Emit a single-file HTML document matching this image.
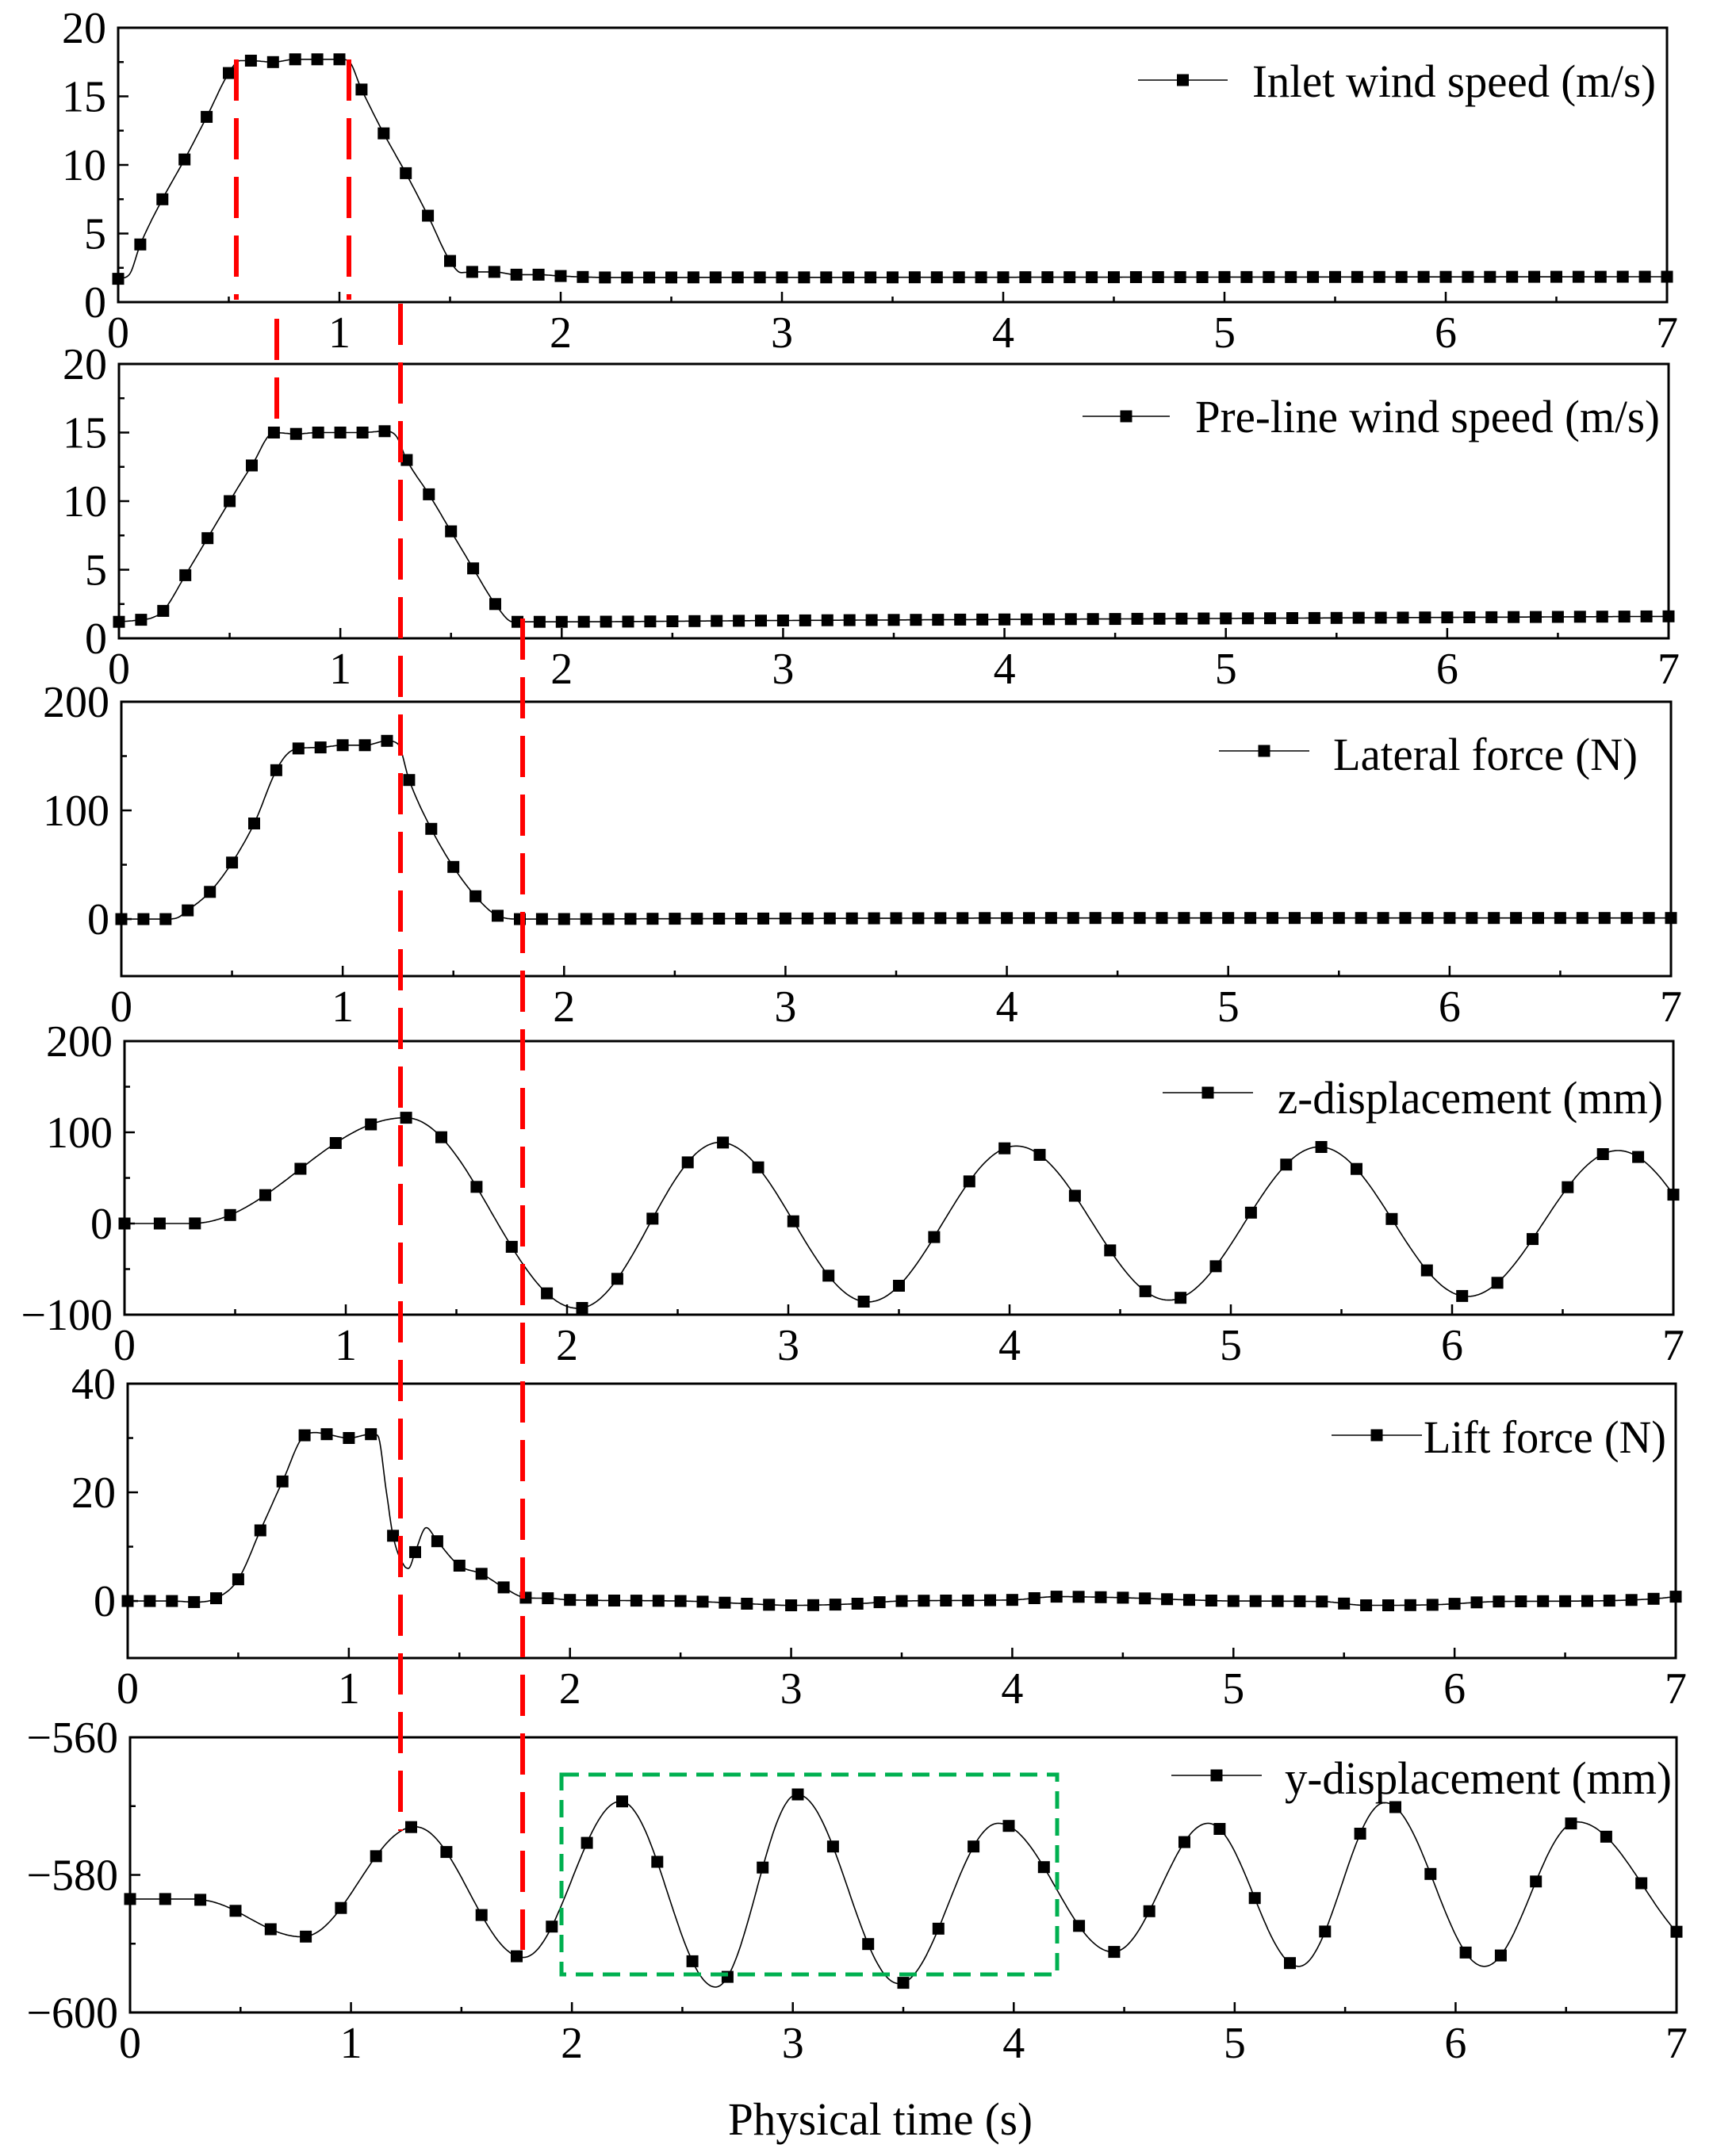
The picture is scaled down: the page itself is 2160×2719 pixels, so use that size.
<!DOCTYPE html>
<html><head><meta charset="utf-8"><style>
html,body{margin:0;padding:0;background:#fff}
svg{display:block}
text{font-family:"Liberation Serif","Times New Roman",serif;fill:#000}
.tk{font-size:56px}
.lg{font-size:58px}
</style></head><body>
<svg id="s" xmlns="http://www.w3.org/2000/svg" width="2160" height="2719" viewBox="0 0 2160 2719">
<rect width="2160" height="2719" fill="#fff"/>
<g id="plots"></g>
<g class="tk" id="labels"></g>
<g class="lg">
<text x="1579" y="122" textLength="509" lengthAdjust="spacingAndGlyphs">Inlet wind speed (m/s)</text>
<text x="1507" y="545" textLength="586" lengthAdjust="spacingAndGlyphs">Pre-line wind speed (m/s)</text>
<text x="1681" y="971" textLength="384" lengthAdjust="spacingAndGlyphs">Lateral force (N)</text>
<text x="1611" y="1404" textLength="486" lengthAdjust="spacingAndGlyphs">z-displacement (mm)</text>
<text x="1795" y="1832" textLength="306" lengthAdjust="spacingAndGlyphs">Lift force (N)</text>
<text x="1620" y="2262" textLength="488" lengthAdjust="spacingAndGlyphs">y-displacement (mm)</text>
<text x="1110" y="2692" text-anchor="middle" textLength="384" lengthAdjust="spacingAndGlyphs">Physical time (s)</text>
</g>
</svg>
<script>
(function(){
var NS="http://www.w3.org/2000/svg";
var plots=document.getElementById('plots'), labels=document.getElementById('labels');
function el(tag,attrs,par){var e=document.createElementNS(NS,tag);for(var k in attrs)e.setAttribute(k,attrs[k]);(par||plots).appendChild(e);return e;}
function mono(pts){
  var n=pts.length,xs=pts.map(p=>p[0]),ys=pts.map(p=>p[1]),d=[],m=[];
  for(var i=0;i<n-1;i++)d.push((ys[i+1]-ys[i])/(xs[i+1]-xs[i]));
  m[0]=d[0];m[n-1]=d[n-2];
  for(i=1;i<n-1;i++){ if(d[i-1]*d[i]<=0)m[i]=0; else m[i]=(d[i-1]+d[i])/2;}
  for(i=0;i<n-1;i++){ if(d[i]===0){m[i]=0;m[i+1]=0;continue;} var a=m[i]/d[i],b=m[i+1]/d[i],h=a*a+b*b; if(h>9){var t=3/Math.sqrt(h);m[i]=t*a*d[i];m[i+1]=t*b*d[i];}}
  return function(x){
    if(x<=xs[0])return ys[0]; if(x>=xs[n-1])return ys[n-1];
    var k=0;while(xs[k+1]<x)k++;
    var h=xs[k+1]-xs[k],t=(x-xs[k])/h,t2=t*t,t3=t2*t;
    return (2*t3-3*t2+1)*ys[k]+(t3-2*t2+t)*h*m[k]+(-2*t3+3*t2)*ys[k+1]+(t3-t2)*h*m[k+1];
  };
}
function cosEx(ex){
  return function(x){
    if(x<=ex[0][0])return ex[0][1];
    for(var i=0;i<ex.length-1;i++){ if(x<=ex[i+1][0]){var t=(x-ex[i][0])/(ex[i+1][0]-ex[i][0]);var s=(1-Math.cos(Math.PI*t))/2;return ex[i][1]+(ex[i+1][1]-ex[i][1])*s;} }
    return ex[ex.length-1][1];
  };
}
function panel(P){
  var L=P.L,R=P.R,T=P.T,B=P.B,y0=P.ymin,y1=P.ymax;
  var X=t=>L+(R-L)*t/7, Y=v=>B-(B-T)*(v-y0)/(y1-y0);
  var d="",N=1400;
  for(var i=0;i<=N;i++){var t=7*i/N;var y=Y(P.f(t));d+=(i?"L":"M")+X(t).toFixed(1)+","+y.toFixed(1);}
  el('path',{d:d,fill:"none",stroke:"#000","stroke-width":1.6});
  var nm=Math.round(7/P.dt);
  for(i=0;i<=nm;i++){var t=i*7/nm;var x=X(t),y=Y(P.f(t));
    el('rect',{x:(x-7.5).toFixed(1),y:(y-7.5).toFixed(1),width:15,height:15,fill:"#000"});}
  el('rect',{x:L,y:T,width:R-L,height:B-T,fill:"none",stroke:"#000","stroke-width":3});
  for(i=0;i<=14;i++){var x=X(i/2);var len=i%2?7:13; if(i>0&&i<14)el('line',{x1:x,y1:B,x2:x,y2:B-len,stroke:"#000","stroke-width":2.5});}
  for(i=0;i<=7;i++){var tx=el('text',{x:X(i),y:B+57,"text-anchor":"middle"},labels);tx.textContent=String(i);}
  P.major.forEach(function(v){var y=Y(v);if(y>T+2&&y<B-2)el('line',{x1:L,y1:y,x2:L+13,y2:y,stroke:"#000","stroke-width":2.5});
    var tx=el('text',{x:L-15,y:y+19,"text-anchor":"end"},labels);tx.textContent=(v<0?"\u2212"+(-v):String(v));});
  P.minor.forEach(function(v){var y=Y(v);el('line',{x1:L,y1:y,x2:L+7,y2:y,stroke:"#000","stroke-width":2.5});});
  el('line',{x1:P.lg[0],y1:P.lg[2],x2:P.lg[1],y2:P.lg[2],stroke:"#000","stroke-width":1.6});
  var mx=(P.lg[0]+P.lg[1])/2;el('rect',{x:mx-7.5,y:P.lg[2]-7.5,width:15,height:15,fill:"#000"});
}
var f1=mono([[0,1.7],[0.05,2.0],[0.1,4.2],[0.2,7.5],[0.3,10.4],[0.4,13.5],[0.5,16.7],[0.55,17.6],[0.6,17.6],[0.7,17.5],[0.8,17.7],[0.9,17.7],[1.0,17.7],[1.04,17.6],[1.1,15.5],[1.2,12.3],[1.3,9.4],[1.4,6.3],[1.5,3.0],[1.55,2.15],[1.6,2.2],[1.7,2.2],[1.8,2.0],[1.9,2.0],[2.0,1.9],[2.2,1.8],[7,1.85]]);
var f2=mono([[0,1.2],[0.1,1.35],[0.15,1.5],[0.2,2.0],[0.3,4.6],[0.4,7.3],[0.5,10.0],[0.6,12.6],[0.7,15],[0.8,14.9],[0.9,15],[1.0,15],[1.1,15],[1.2,15.1],[1.25,14.8],[1.3,13],[1.4,10.5],[1.5,7.8],[1.6,5.1],[1.7,2.5],[1.78,1.2],[1.9,1.2],[3,1.3],[5,1.45],[7,1.6]]);
var f3=mono([[0,0],[0.2,0],[0.25,1],[0.3,8],[0.4,25],[0.5,52],[0.6,88],[0.7,137],[0.75,152],[0.8,157],[0.9,158],[1.0,160],[1.1,160],[1.2,164],[1.25,161],[1.3,128],[1.4,83],[1.5,48],[1.6,21],[1.7,3],[1.8,0],[2.5,0.3],[4.5,1],[7,1]]);
var f4=cosEx([[0.3,0],[1.27,116],[2.05,-93],[2.69,89],[3.36,-86],[4.03,85],[4.72,-84],[5.40,84],[6.07,-80],[6.75,80],[7.42,-78]]);
var f5=mono([[0,0],[0.1,0],[0.2,0],[0.3,-0.2],[0.4,0.5],[0.5,4],[0.6,13],[0.7,22],[0.8,30.5],[0.85,31],[0.9,30.7],[1.0,30],[1.1,30.7],[1.13,30.5],[1.17,20],[1.2,12],[1.25,6.5],[1.27,6],[1.3,9],[1.35,13.5],[1.4,11],[1.5,6.5],[1.6,5],[1.7,2.5],[1.8,0.6],[1.9,0.5],[2.0,0.2],[2.5,0],[2.8,-0.5],[3.0,-0.8],[3.3,-0.5],[3.5,0],[4.0,0.2],[4.2,0.8],[4.5,0.6],[4.8,0.2],[5.0,0],[5.4,-0.1],[5.6,-0.8],[5.9,-0.7],[6.2,-0.1],[6.6,0],[6.9,0.4],[7,0.8]]);
var f6=cosEx([[0.3,-583.6],[0.78,-589],[1.29,-573],[1.78,-592],[2.22,-569.3],[2.65,-596.3],[3.02,-568.3],[3.48,-595.8],[3.93,-572.5],[4.45,-591.2],[4.88,-572.5],[5.29,-593.3],[5.68,-569.5],[6.13,-593.3],[6.55,-572.3],[7.15,-591]]);
var f6b=function(t){return t<0.3?-583.5:f6(t);};
panel({L:149,R:2102,T:35,B:381,ymin:0,ymax:20,f:f1,dt:0.1,major:[0,5,10,15,20],minor:[2.5,7.5,12.5,17.5],lg:[1435,1548,101]});
panel({L:150,R:2104,T:459,B:805,ymin:0,ymax:20,f:f2,dt:0.1,major:[0,5,10,15,20],minor:[2.5,7.5,12.5,17.5],lg:[1365,1475,525]});
panel({L:153,R:2107,T:885,B:1231,ymin:-52.5,ymax:200,f:f3,dt:0.1,major:[0,100,200],minor:[50,150],lg:[1537,1651,947]});
panel({L:157,R:2110,T:1313,B:1658,ymin:-100,ymax:200,f:f4,dt:7/44,major:[-100,0,100,200],minor:[-50,50,150],lg:[1466,1580,1378]});
panel({L:161,R:2113,T:1745,B:2091,ymin:-10.5,ymax:40,f:f5,dt:0.1,major:[0,20,40],minor:[10,30],lg:[1679,1793,1810]});
panel({L:164,R:2114,T:2191,B:2538,ymin:-600,ymax:-560,f:f6b,dt:7/44,major:[-600,-580,-560],minor:[-590,-570],lg:[1477,1591,2239]});
function red(x,y1,y2){el('line',{x1:x,y1:y1,x2:x,y2:y2,stroke:"#ff0000","stroke-width":6,"stroke-dasharray":"52 22"});}
red(298,75,378);red(440,75,378);red(349,402,546);red(505,383,2309);red(659,780,2459);
el('rect',{x:708,y:2238,width:625,height:252,fill:"none",stroke:"#00b050","stroke-width":5,"stroke-dasharray":"22 12"});
})();
</script>
</body></html>
